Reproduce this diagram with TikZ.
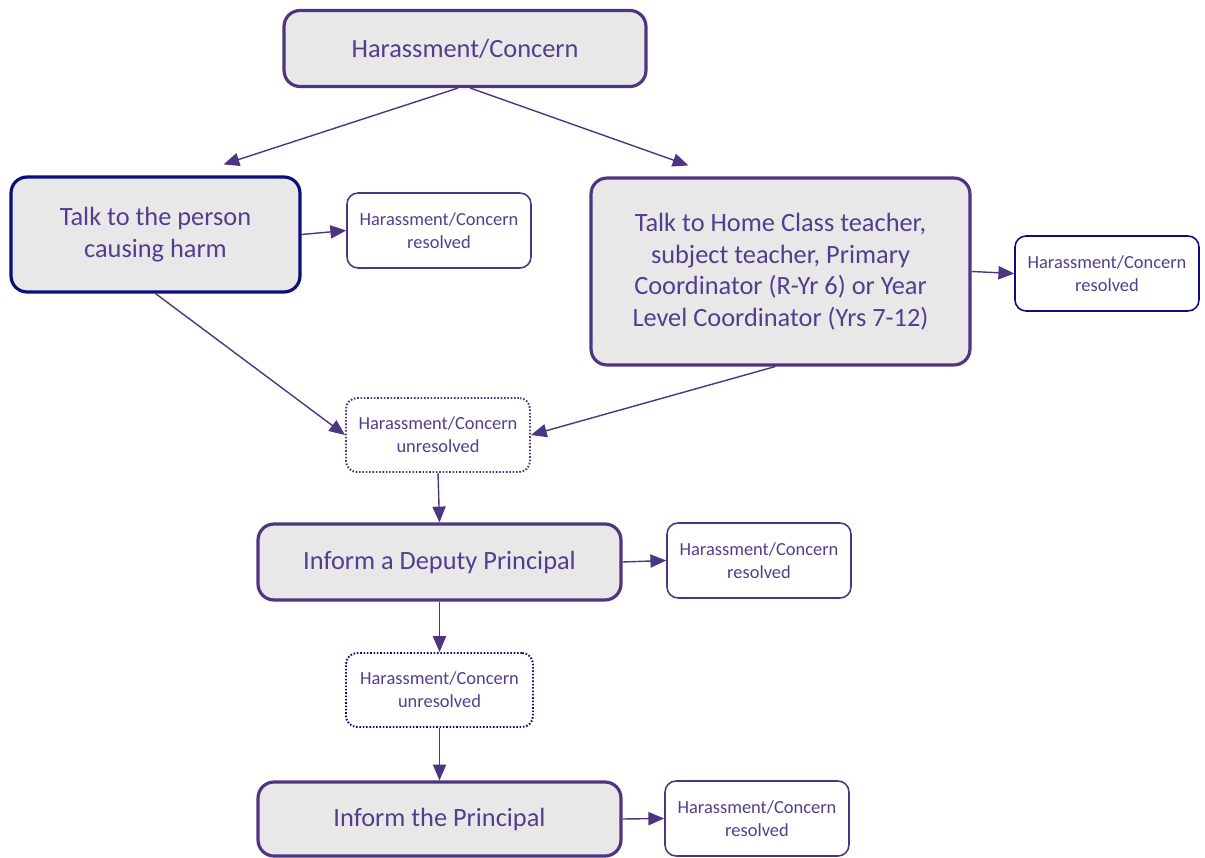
\documentclass[tikz,border=0pt]{standalone}
\usepackage{fontspec}
\setmainfont{Carlito}
\usetikzlibrary{arrows.meta}
\definecolor{plum}{HTML}{4E3582}
\definecolor{plumtext}{HTML}{553D8E}
\definecolor{navy}{HTML}{0C0C7C}
\definecolor{boxgrey}{HTML}{E8E8E8}
\begin{document}
\begin{tikzpicture}[x=0.02cm, y=-0.02cm, align=center, text=plumtext,
	stage/.style={draw=plum, line width=1.8pt, fill=boxgrey, rounded corners=0.32cm,
		inner sep=0pt, font=\fontsize{15}{18}\selectfont},
	outcome/.style={draw=plum, line width=0.9pt, fill=white, rounded corners=0.22cm,
		inner sep=0pt, minimum width=3.68cm, minimum height=1.5cm,
		font=\fontsize{10.5}{13}\selectfont},
	pending/.style={outcome, densely dotted, line width=1.1pt},
	arr/.style={draw=plum, line width=0.8pt, -{Triangle[length=9pt, width=7.5pt]}}]
	\useasboundingbox (0,0) rectangle (1205,858);

	\node[stage, minimum width=7.24cm, minimum height=1.52cm] (concern) at (465,48.5) {Harassment/Concern};
	\node[stage, draw=navy, minimum width=5.78cm, minimum height=2.3cm] (talkself) at (155.5,234.5) {Talk to the person\\causing harm};
	\node[outcome] (res1) at (439,230.5) {Harassment/Concern\\resolved};
	\node[stage, minimum width=7.58cm, minimum height=3.74cm] (talkstaff) at (780.5,271.5)
		{Talk to Home Class teacher,\\subject teacher, Primary\\Coordinator (R-Yr 6) or Year\\Level Coordinator (Yrs 7-12)};
	\node[outcome, draw=navy] (res2) at (1107,273.5) {Harassment/Concern\\resolved};
	\node[pending, minimum height=1.48cm] (unres1) at (438,435) {Harassment/Concern\\unresolved};
	\node[stage, minimum width=7.26cm, minimum height=1.52cm] (deputy) at (439.5,562) {Inform a Deputy Principal};
	\node[outcome] (res3) at (759,560.5) {Harassment/Concern\\resolved};
	\node[pending, draw=navy, minimum width=3.74cm, minimum height=1.48cm] (unres2) at (439.5,690) {Harassment/Concern\\unresolved};
	\node[stage, minimum width=7.26cm, minimum height=1.48cm] (principal) at (439.5,819) {Inform the Principal};
	\node[outcome] (res4) at (757,818.5) {Harassment/Concern\\resolved};

	\draw[arr] ([xshift=-4]concern.south) -- ([shift={(68,-11)}]talkself.north);
	\draw[arr] ([xshift=3]concern.south) -- ([shift={(-92,-11)}]talkstaff.north);
	\draw[arr] (talkself.east) -- (res1.west);
	\draw[arr] (talkstaff.east) -- (res2.west);
	\draw[arr] (talkself.south) -- (unres1.west);
	\draw[arr] ([xshift=-3]talkstaff.south) -- (unres1.east);
	\draw[arr] (unres1.south) -- (deputy.north);
	\draw[arr] (deputy.east) -- (res3.west);
	\draw[arr] (deputy.south) -- (unres2.north);
	\draw[arr] (unres2.south) -- (principal.north);
	\draw[arr] (principal.east) -- (res4.west);
\end{tikzpicture}
\end{document}
